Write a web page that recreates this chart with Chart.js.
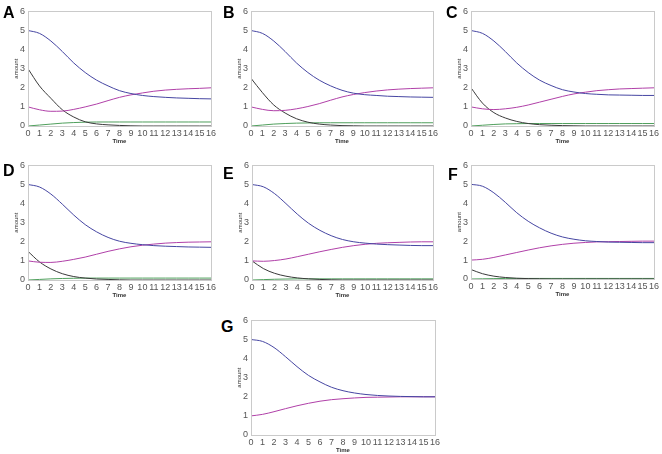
<!DOCTYPE html>
<html>
<head>
<meta charset="utf-8">
<script src="https://cdn.jsdelivr.net/npm/chart.js@4"></script>
<style>
  body { margin: 0; background: #fff; }
  #page { position: relative; width: 662px; height: 454px; overflow: hidden; }
  .box { position: absolute; }
  .letter { position: absolute; font: bold 16px Arial, "Liberation Sans", sans-serif; color: #000; }
</style>
</head>
<body>
<div id="page"></div>
<script>
const time = [0, 1, 2, 3, 4, 5, 6, 7, 8, 9, 10, 11, 12, 13, 14, 15, 16];
const yTicks = [0, 1, 2, 3, 4, 5, 6];

const blueA = [5.0, 4.85, 4.45, 3.9, 3.3, 2.8, 2.4, 2.1, 1.85, 1.7, 1.6, 1.54, 1.5, 1.47, 1.45, 1.43, 1.42];
const purpleA = [1.0, 0.85, 0.77, 0.78, 0.87, 1.0, 1.15, 1.33, 1.5, 1.63, 1.73, 1.82, 1.88, 1.92, 1.95, 1.97, 2.0];
const blackA = [3.0, 2.1, 1.45, 0.85, 0.47, 0.22, 0.11, 0.06, 0.03, 0.01, 0, 0, 0, 0, 0, 0, 0];
const greenA = [0, 0.05, 0.1, 0.15, 0.18, 0.2, 0.21, 0.21, 0.21, 0.21, 0.21, 0.21, 0.21, 0.21, 0.21, 0.21, 0.21];

const blueB = [5.0, 4.85, 4.45, 3.9, 3.3, 2.8, 2.4, 2.1, 1.87, 1.72, 1.64, 1.6, 1.56, 1.54, 1.52, 1.51, 1.5];
const purpleB = [1.0, 0.87, 0.8, 0.82, 0.9, 1.02, 1.17, 1.35, 1.52, 1.65, 1.75, 1.83, 1.89, 1.93, 1.96, 1.98, 2.0];
const blackB = [2.5, 1.75, 1.1, 0.68, 0.38, 0.2, 0.1, 0.05, 0.02, 0.01, 0, 0, 0, 0, 0, 0, 0];
const greenB = [0, 0.05, 0.1, 0.13, 0.15, 0.16, 0.17, 0.17, 0.17, 0.17, 0.17, 0.17, 0.17, 0.17, 0.17, 0.17, 0.17];

const blueC = [5.0, 4.85, 4.45, 3.9, 3.3, 2.8, 2.4, 2.12, 1.9, 1.78, 1.7, 1.66, 1.63, 1.62, 1.61, 1.6, 1.6];
const purpleC = [1.0, 0.9, 0.86, 0.9, 0.98, 1.1, 1.25, 1.4, 1.55, 1.68, 1.77, 1.85, 1.9, 1.94, 1.96, 1.98, 2.0];
const blackC = [2.0, 1.2, 0.7, 0.42, 0.24, 0.13, 0.07, 0.04, 0.02, 0.01, 0, 0, 0, 0, 0, 0, 0];
const greenC = [0, 0.04, 0.08, 0.11, 0.12, 0.13, 0.13, 0.13, 0.13, 0.13, 0.13, 0.13, 0.13, 0.13, 0.13, 0.13, 0.13];

const blueD = [5.0, 4.87, 4.5, 3.97, 3.4, 2.9, 2.52, 2.23, 2.03, 1.92, 1.85, 1.8, 1.77, 1.75, 1.73, 1.72, 1.71];
const purpleD = [1.0, 0.93, 0.92, 0.98, 1.08, 1.2, 1.35, 1.5, 1.63, 1.74, 1.82, 1.88, 1.93, 1.96, 1.98, 1.99, 2.0];
const blackD = [1.5, 0.95, 0.58, 0.33, 0.18, 0.1, 0.05, 0.03, 0.01, 0, 0, 0, 0, 0, 0, 0, 0];
const greenD = [0, 0.03, 0.06, 0.08, 0.09, 0.1, 0.1, 0.1, 0.1, 0.1, 0.1, 0.1, 0.1, 0.1, 0.1, 0.1, 0.1];

const blueE = [5.0, 4.88, 4.52, 4.0, 3.45, 2.97, 2.6, 2.32, 2.12, 2.0, 1.93, 1.88, 1.85, 1.83, 1.81, 1.8, 1.8];
const purpleE = [1.0, 0.98, 1.02, 1.1, 1.22, 1.35, 1.48, 1.6, 1.71, 1.8, 1.87, 1.92, 1.95, 1.97, 1.99, 2.0, 2.0];
const blackE = [1.0, 0.6, 0.35, 0.2, 0.11, 0.06, 0.03, 0.01, 0, 0, 0, 0, 0, 0, 0, 0, 0];
const greenE = [0, 0.02, 0.04, 0.05, 0.06, 0.06, 0.06, 0.06, 0.06, 0.06, 0.06, 0.06, 0.06, 0.06, 0.06, 0.06, 0.06];

const blueF = [5.0, 4.9, 4.55, 4.05, 3.5, 3.05, 2.7, 2.42, 2.22, 2.1, 2.02, 1.98, 1.95, 1.94, 1.93, 1.92, 1.92];
const purpleF = [1.0, 1.04, 1.14, 1.27, 1.4, 1.53, 1.65, 1.75, 1.83, 1.89, 1.93, 1.96, 1.97, 1.98, 1.99, 2.0, 2.0];
const blackF = [0.5, 0.28, 0.15, 0.08, 0.04, 0.02, 0.01, 0, 0, 0, 0, 0, 0, 0, 0, 0, 0];
const greenF = [0, 0.01, 0.02, 0.03, 0.03, 0.03, 0.03, 0.03, 0.03, 0.03, 0.03, 0.03, 0.03, 0.03, 0.03, 0.03, 0.03];

const blueG = [5.0, 4.9, 4.58, 4.1, 3.58, 3.12, 2.78, 2.5, 2.32, 2.2, 2.12, 2.07, 2.04, 2.02, 2.01, 2.0, 2.0];
const purpleG = [1.0, 1.08, 1.22, 1.38, 1.53, 1.66, 1.77, 1.85, 1.9, 1.94, 1.97, 1.98, 1.99, 2.0, 2.0, 2.0, 2.0];

const BLUE = "#4646a2";
const PURPLE = "#b040a8";
const BLACK = "#3a3a3a";
const GREEN = "#4f9f5c";

// plot area of each panel in page pixels
const panels = [
    { letter: "A", lx: 3, ly: 4, left: 28, top: 9, w: 183, h: 117, series: [[blueA, BLUE], [purpleA, PURPLE], [blackA, BLACK], [greenA, GREEN]] },
    { letter: "B", lx: 223, ly: 4, left: 251, top: 9, w: 182, h: 117, series: [[blueB, BLUE], [purpleB, PURPLE], [blackB, BLACK], [greenB, GREEN]] },
    { letter: "C", lx: 446, ly: 4, left: 471, top: 9, w: 183, h: 117, series: [[blueC, BLUE], [purpleC, PURPLE], [blackC, BLACK], [greenC, GREEN]] },
    { letter: "D", lx: 3, ly: 162, left: 28, top: 163, w: 183, h: 117, series: [[blueD, BLUE], [purpleD, PURPLE], [blackD, BLACK], [greenD, GREEN]] },
    { letter: "E", lx: 223, ly: 165, left: 252, top: 163, w: 181, h: 117, series: [[blueE, BLUE], [purpleE, PURPLE], [blackE, BLACK], [greenE, GREEN]] },
    { letter: "F", lx: 448, ly: 166, left: 471, top: 163, w: 183, h: 116, series: [[blueF, BLUE], [purpleF, PURPLE], [blackF, BLACK], [greenF, GREEN]] },
    { letter: "G", lx: 221, ly: 318, left: 251, top: 318, w: 184, h: 117, series: [[blueG, BLUE], [purpleG, PURPLE]] }
];

const Y_AXIS_W = 16;
const X_AXIS_H = 20;
const PAD_TOP = 6;
const PAD_RIGHT = 8;

const frame = {
    id: "frame",
    afterDatasetsDraw(chart) {
        const { ctx, chartArea: a } = chart;
        ctx.save();
        ctx.strokeStyle = "#cacaca";
        ctx.lineWidth = 1;
        ctx.strokeRect(Math.round(a.left) + 0.5, Math.round(a.top) + 0.5, Math.round(a.right - a.left), Math.round(a.bottom - a.top));
        ctx.restore();
    }
};

const page = document.getElementById("page");

function buildPanel(p) {
    const box = document.createElement("div");
    box.className = "box";
    const cw = p.w + Y_AXIS_W + PAD_RIGHT;
    const ch = p.h + PAD_TOP + X_AXIS_H;
    box.style.left = (p.left - Y_AXIS_W) + "px";
    box.style.top = (p.top - PAD_TOP) + "px";
    box.style.width = cw + "px";
    box.style.height = ch + "px";
    const canvas = document.createElement("canvas");
    box.appendChild(canvas);
    page.appendChild(box);

    const label = document.createElement("div");
    label.className = "letter";
    label.style.left = p.lx + "px";
    label.style.top = p.ly + "px";
    label.textContent = p.letter;
    page.appendChild(label);

    new Chart(canvas, {
        type: "line",
        data: {
            datasets: p.series.map(([values, color]) => ({
                data: time.map((t, i) => ({ x: t, y: values[i] })),
                borderColor: color,
                borderWidth: 1,
                pointRadius: 0,
                fill: false,
                cubicInterpolationMode: "monotone"
            }))
        },
        options: {
            responsive: true,
            maintainAspectRatio: false,
            animation: false,
            layout: { padding: { top: PAD_TOP, right: PAD_RIGHT, left: 0, bottom: 0 } },
            plugins: { legend: { display: false }, tooltip: { enabled: false } },
            scales: {
                x: {
                    type: "linear",
                    min: 0,
                    max: 16,
                    grid: { display: false, drawTicks: false },
                    border: { display: false },
                    afterBuildTicks(scale) { scale.ticks = time.map(v => ({ value: v })); },
                    afterFit(scale) { scale.height = X_AXIS_H; },
                    ticks: {
                        autoSkip: false,
                        maxRotation: 0,
                        padding: 2,
                        color: "#555",
                        font: { family: "Arial, 'Liberation Sans'", size: 9 }
                    },
                    title: {
                        display: true,
                        text: "Time",
                        color: "#333",
                        padding: { top: 0, bottom: 1 },
                        font: { family: "Arial, 'Liberation Sans'", size: 6, weight: "bold" }
                    }
                },
                y: {
                    min: 0,
                    max: 6,
                    grid: { display: false, drawTicks: false },
                    border: { display: false },
                    afterBuildTicks(scale) { scale.ticks = yTicks.map(v => ({ value: v })); },
                    afterFit(scale) { scale.width = Y_AXIS_W; },
                    ticks: {
                        padding: 3,
                        color: "#555",
                        font: { family: "Arial, 'Liberation Sans'", size: 9 }
                    },
                    title: {
                        display: true,
                        text: "amount",
                        color: "#333",
                        padding: { top: 1, bottom: 0 },
                        font: { family: "Arial, 'Liberation Sans'", size: 6 }
                    }
                }
            }
        },
        plugins: [frame]
    });
}

panels.forEach(buildPanel);
</script>
</body>
</html>
